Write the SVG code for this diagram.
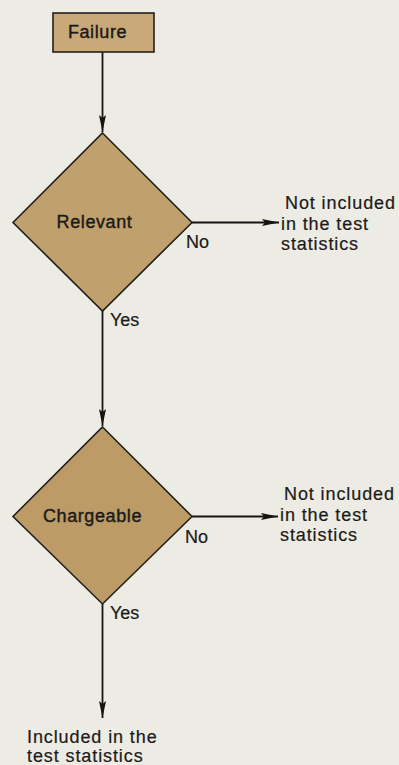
<svg xmlns="http://www.w3.org/2000/svg" width="399" height="765" viewBox="0 0 399 765">
  <style>
    text { font-family: "Liberation Sans", Arial, Helvetica, sans-serif; font-size: 18px; fill: #1c1a18; stroke: #1c1a18; stroke-width: 0.2; }
    .node { stroke: #23201c; stroke-width: 1.6; stroke-linejoin: miter; }
    .label { letter-spacing: 0.6px; stroke-width: 0.4; }
    .note { letter-spacing: 0.9px; }
    .edge { stroke: #151412; stroke-width: 1.8; fill: none; }
  </style>
  <defs>
    <marker id="spear" viewBox="0 0 17 7" refX="17" refY="3.5" markerWidth="17" markerHeight="7" markerUnits="userSpaceOnUse" orient="auto">
      <path d="M0,0 L17,3.5 L0,7 L3,3.5 Z" fill="#151412"/>
    </marker>
  </defs>

  <rect width="399" height="765" fill="#ecebe4"/>

  <!-- connectors and their branch labels -->
  <g id="connectors">
    <path class="edge" d="M102.5,52 L102.5,132" marker-end="url(#spear)"/>
    <path class="edge" d="M192,222.5 L279,222.5" marker-end="url(#spear)"/>
    <path class="edge" d="M102.5,311 L102.5,426" marker-end="url(#spear)"/>
    <path class="edge" d="M192,516.5 L278,516.5" marker-end="url(#spear)"/>
    <path class="edge" d="M102.5,604 L102.5,718" marker-end="url(#spear)"/>
    <text x="186" y="248">No</text>
    <text x="110" y="326">Yes</text>
    <text x="185" y="543">No</text>
    <text x="110" y="619">Yes</text>
  </g>

  <!-- start node -->
  <g id="failure">
    <rect class="node" x="53" y="13" width="101" height="39" fill="#c9a977"/>
    <text class="label" x="97.5" y="37.5" text-anchor="middle">Failure</text>
  </g>

  <!-- decision: relevant -->
  <g id="relevant">
    <polygon class="node" points="102.5,133 192,222.5 102.5,311 13,222.5" fill="#c0a06c"/>
    <text class="label" x="94.5" y="228" text-anchor="middle">Relevant</text>
  </g>

  <!-- decision: chargeable -->
  <g id="chargeable">
    <polygon class="node" points="102.5,427 192,516.5 102.5,604 13,516.5" fill="#bc9b66"/>
    <text class="label" x="92.5" y="522" text-anchor="middle">Chargeable</text>
  </g>

  <!-- outcomes -->
  <g id="excluded-1">
    <text class="note" x="285" y="209">Not included</text>
    <text class="note" x="281" y="230">in the test</text>
    <text class="note" x="281" y="250">statistics</text>
  </g>
  <g id="excluded-2">
    <text class="note" x="284" y="500">Not included</text>
    <text class="note" x="280" y="521">in the test</text>
    <text class="note" x="280" y="541">statistics</text>
  </g>
  <g id="included">
    <text class="note" x="27" y="743">Included in the</text>
    <text class="note" x="27" y="762">test statistics</text>
  </g>
</svg>
